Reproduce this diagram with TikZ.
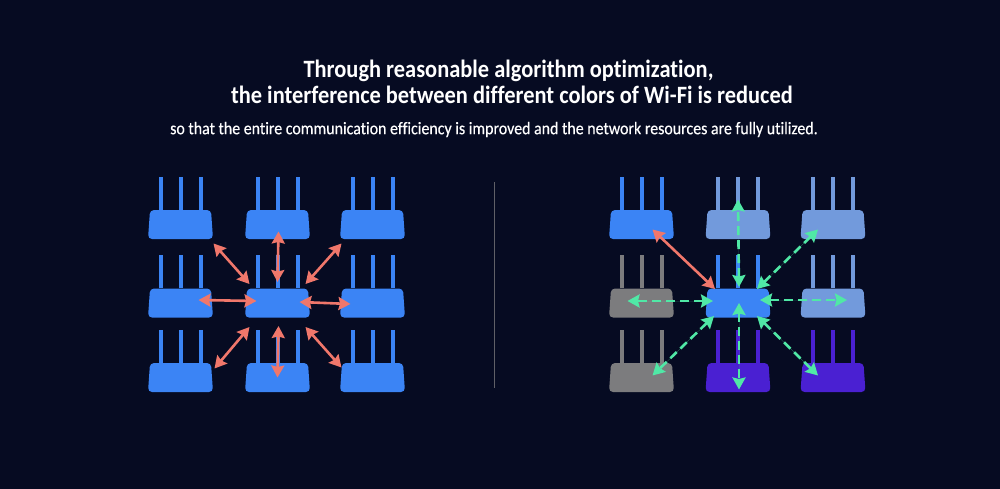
\documentclass[tikz,border=0pt]{standalone}
\usepackage{fontspec}
\setmainfont[FakeStretch=0.9,Ligatures=NoCommon]{Carlito}
\usetikzlibrary{arrows.meta,positioning,calc,shapes.geometric}
\definecolor{bgnavy}{HTML}{060B22}
\definecolor{wifiblue}{HTML}{3B84F5}
\definecolor{wifipale}{HTML}{729ADC}
\definecolor{wifigrey}{HTML}{7C7C7E}
\definecolor{wifiviolet}{HTML}{4A20D2}
\definecolor{linkred}{HTML}{F0776B}
\definecolor{linkgreen}{HTML}{50E8A6}
\tikzset{
  body/.style={trapezium,trapezium left angle=86,trapezium right angle=86,trapezium stretches body=true,text height=25pt,minimum width=65pt,minimum height=29pt,inner sep=2pt,rounded corners=4pt,fill=#1},
  ant/.style={line width=4pt,draw=#1},
  redarr/.style={{Stealth[length=12pt,width=13pt,inset=1.5pt]}-{Stealth[length=12pt,width=13pt,inset=1.5pt]},line width=2.6pt,draw=linkred,fill=linkred},
  grnarr/.style={{Stealth[length=12pt,width=13pt,inset=1.5pt]}-{Stealth[length=12pt,width=13pt,inset=1.5pt]},line width=2.6pt,draw=linkgreen,fill=linkgreen,dash pattern=on 9pt off 5pt},
  ttl/.style={text=white,inner sep=0pt,font=\fontsize{24.9}{28}\selectfont\bfseries},
  sub/.style={text=white,inner sep=0pt,font=\fontsize{17.7}{20}\selectfont\addfontfeature{FakeBold=0.3}},
}
\begin{document}
\begin{tikzpicture}[x=1pt,y=-1pt]
 \fill[bgnavy] (0,0) rectangle (1000,489);
 \useasboundingbox (0,0) rectangle (1000,489);
 \node[ttl] (head1) at (508.5,71){Through reasonable algorithm optimization,};
 \node[ttl] (head2) at (512,95){the interference between different colors of Wi-Fi is reduced};
 \node[sub] (head3) at (494,129.5){so that the entire communication efficiency is improved and the network resources are fully utilized.};
 % divider
 \coordinate (divtop) at (494,182);
 \coordinate (divbot) at (494,388);
 \draw[wifigrey!75!bgnavy,line width=0.9pt] (divtop) -- (divbot);
 % routers, left then right
 \foreach \n/\x/\y/\c in {l1/180.5/224.5/wifiblue,l2/277.5/224.5/wifiblue,l3/372.5/224.5/wifiblue,
   l4/180.5/303/wifiblue,l5/277.5/303/wifiblue,l6/372.5/303/wifiblue,
   l7/180.5/377.5/wifiblue,l8/277.5/377.5/wifiblue,l9/372.5/377.5/wifiblue,
   r1/641.5/224.5/wifiblue,r2/738/224.5/wifipale,r3/833/224.5/wifipale,
   r4/641.5/303/wifigrey,r5/738/303/wifiblue,r6/833/303/wifipale,
   r7/641.5/377.5/wifigrey,r8/738/377.5/wifiviolet,r9/833/377.5/wifiviolet}{
  \node[body=\c] (\n) at (\x,\y){};
  \foreach \d in {-20,0,20}{\draw[ant=\c] ([xshift=\d pt]\n.north) -- ++(0,-33);}
 }
 % left links, offsets from each centre
 \foreach \t/\ax/\ay/\bx/\by in {l1/-28/-19/33/19,l2/0/-21/1/7,l3/28/-19/-31/19,l4/-21/-2/18/-3,
   l6/22/-1/-22/1,l7/-28/24/34/-9,l8/1/23/0/0,l9/28/24/-31/-10}{
  \draw[redarr] ([shift={(\ax,\ay)}]l5.center) -- ([shift={(\bx,\by)}]\t.center);
 }
 % right links
 \draw[redarr] ([shift={(-23,-14)}]r5.center) -- ([shift={(11,5)}]r1.center);
 \foreach \t/\ax/\ay/\bx/\by in {r2/1/-16/0/-25,r3/19/-14/-15/5,r4/-25/-2/-14/-2,r6/22/-3/14/-3,
   r7/-24/13/11/-2,r8/1/0/1/12,r9/19/13/-15/-2}{
  \draw[grnarr] ([shift={(\ax,\ay)}]r5.center) -- ([shift={(\bx,\by)}]\t.center);
 }
\end{tikzpicture}
\end{document}
